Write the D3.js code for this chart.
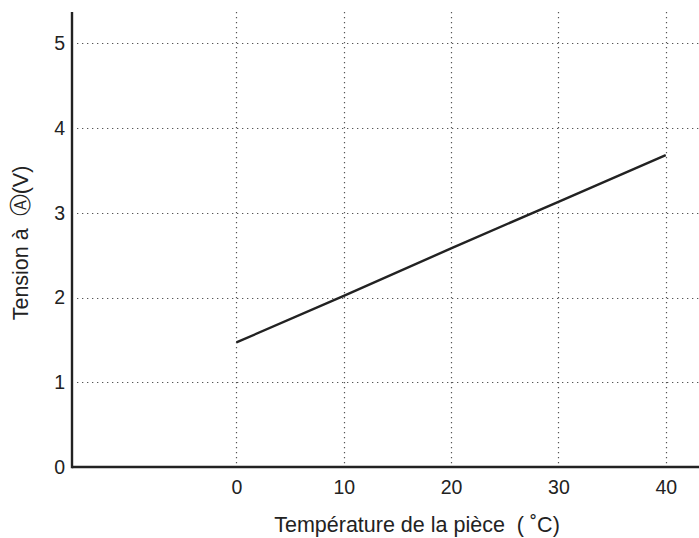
<!DOCTYPE html>
<html>
<head>
<meta charset="utf-8">
<script src="https://cdn.jsdelivr.net/npm/d3@7"></script>
<style>
  html, body { margin: 0; padding: 0; background: #fff; }
  svg { display: block; }
  text { font-family: "Liberation Sans", Arial, sans-serif; fill: #222; }
  .title { white-space: pre; }
</style>
</head>
<body>
<div id="chart"></div>
<script>
// Room temperature (°C) and the voltage measured at point A (V)
const temperatures = [0, 10, 20, 30, 40];
const voltages = [1.47, 2.02, 2.58, 3.13, 3.68];
const xTicks = [0, 10, 20, 30, 40];
const yTicks = [0, 1, 2, 3, 4, 5];
const xTitle = "Température de la pièce  ( ˚C)";
const yTitle = "Tension à  Ⓐ(V)";

const W = 699, H = 538;
const plotLeft = 72, plotBottom = 467, plotTop = 12, plotRight = 699;
const tickFont = "19.5px";
const titleFont = "21.5px";

const svg = d3.select("#chart").append("svg")
  .attr("width", W).attr("height", H);

const x = d3.scaleLinear().domain([-15.32, 43.1]).range([plotLeft, plotRight]);
const y = d3.scaleLinear().domain([0, 5.37]).range([plotBottom, plotTop]);

// dotted grid
const grid = svg.append("g")
  .attr("stroke", "#555")
  .attr("stroke-width", 1.2)
  .attr("stroke-dasharray", "1.3,3.7")
  .attr("fill", "none");

grid.selectAll("line.h").data(yTicks.filter(d => d > 0)).join("line")
  .attr("class", "h")
  .attr("x1", plotLeft + 5).attr("x2", plotRight)
  .attr("y1", d => Math.round(y(d)) + 0.5).attr("y2", d => Math.round(y(d)) + 0.5);

grid.selectAll("line.v").data(xTicks).join("line")
  .attr("class", "v")
  .attr("y1", plotTop).attr("y2", plotBottom - 3)
  .attr("x1", d => Math.round(x(d)) + 0.5).attr("x2", d => Math.round(x(d)) + 0.5);

// axes (no tick marks, labels only)
const xAxis = d3.axisBottom(x).tickValues(xTicks).tickFormat(d3.format("d"))
  .tickSize(0).tickPadding(13);
const yAxis = d3.axisLeft(y).tickValues(yTicks).tickFormat(d3.format("d"))
  .tickSize(0).tickPadding(7);

const gx = svg.append("g").attr("transform", `translate(0,${plotBottom})`).call(xAxis);
const gy = svg.append("g").attr("transform", `translate(${plotLeft},0)`).call(yAxis);

[gx, gy].forEach(g => {
  g.select(".domain").remove();
  g.selectAll("text")
    .style("font-family", "'Liberation Sans', Arial, sans-serif")
    .style("font-size", tickFont)
    .attr("fill", "#222");
});

// axis lines
svg.append("line")
  .attr("x1", plotLeft).attr("x2", plotRight)
  .attr("y1", plotBottom).attr("y2", plotBottom)
  .attr("stroke", "#222").attr("stroke-width", 2.4);
svg.append("line")
  .attr("x1", plotLeft).attr("x2", plotLeft)
  .attr("y1", plotTop).attr("y2", plotBottom + 1.2)
  .attr("stroke", "#222").attr("stroke-width", 2.4);

// data line
const line = d3.line()
  .x((d, i) => x(temperatures[i]))
  .y(d => y(d));

svg.append("path")
  .datum(voltages)
  .attr("d", line)
  .attr("fill", "none")
  .attr("stroke", "#222")
  .attr("stroke-width", 2.4);

// titles
svg.append("text")
  .attr("class", "title")
  .attr("x", 417).attr("y", 532)
  .attr("text-anchor", "middle")
  .style("font-size", titleFont)
  .text(xTitle);

svg.append("text")
  .attr("class", "title")
  .attr("transform", "translate(28,243) rotate(-90)")
  .attr("text-anchor", "middle")
  .style("font-size", titleFont)
  .text(yTitle);
</script>
</body>
</html>
